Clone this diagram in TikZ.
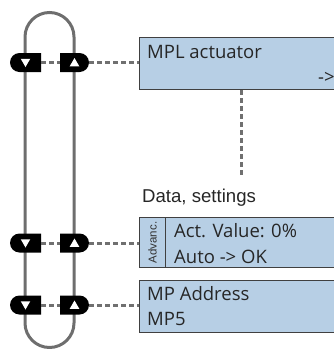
\documentclass[tikz,border=0pt]{standalone}
\usepackage{fontspec}
\setmainfont{Open Sans}
\newfontfamily\arialf{Liberation Sans}
\usetikzlibrary{shapes.misc,shapes.geometric}
\definecolor{boxblue}{RGB}{183,207,229}
\definecolor{loopgray}{RGB}{110,110,110}
\definecolor{dashgray}{RGB}{112,112,112}
\definecolor{edgegray}{RGB}{64,64,64}
\tikzset{
  looppath/.style={draw=loopgray,line width=3pt},
  btnleft/.style={rounded rectangle,rounded rectangle right arc=none,fill=black,minimum width=31pt,minimum height=19pt,inner sep=0pt},
  btnright/.style={rounded rectangle,rounded rectangle left arc=none,fill=black,minimum width=29pt,minimum height=19pt,inner sep=0pt},
  tri/.style={regular polygon,regular polygon sides=3,fill=white,minimum size=11pt,inner sep=0pt},
  dashc/.style={draw=dashgray,line width=3pt,dash pattern=on 5pt off 3pt},
  panel/.style={draw=edgegray,line width=1pt,fill=boxblue,rectangle,inner sep=0pt,anchor=north west},
  ptext/.style={font=\fontsize{18.5}{22}\selectfont,anchor=base west,inner sep=0pt,text=black!85}
}
\begin{document}
\begin{tikzpicture}[x=1pt,y=-1pt]
\useasboundingbox (0,0) rectangle (334,349);
\clip (0,0) rectangle (334,349);
% loop
\draw[looppath] (25,323) -- (25,37) arc[start angle=180,end angle=0,radius=24.5pt] -- (74,323) arc[start angle=0,end angle=-180,radius=24.5pt];
% panels
\node[panel,minimum width=220pt,minimum height=52pt] (box1) at (139,37) {};
\node[panel,minimum width=220pt,minimum height=50pt] (box2) at (139,217) {};
\node[panel,minimum width=26pt,minimum height=50pt] (adv) at (139,217) {};
\node[panel,minimum width=220pt,minimum height=52pt] (box3) at (139,280) {};
% texts
\node[ptext] (t1) at (147,58) {MPL actuator};
\node[ptext] (t1b) at (318,83) {->};
\node[ptext] (t2a) at (174,237.5) {Act. Value: 0\%};
\node[ptext] (t2b) at (174,263) {Auto -> OK};
\node[ptext] (t3a) at (147,300) {MP Address};
\node[ptext] (t3b) at (147,325) {MP5};
\node[font=\arialf\fontsize{11.5}{12}\selectfont,rotate=90,inner sep=0pt,text=black!80] (advt) at (adv.center) {Advanc.};
\node[font=\arialf\fontsize{18.6}{22}\selectfont,anchor=base west,inner sep=0pt,text=black!85] (data) at (142,202) {Data, settings};
% buttons
\foreach \r/\y in {1/62.5,2/243,3/305}{
  \node[btnleft] (d\r) at (25.5,\y) {};
  \node[btnright] (u\r) at (74.5,\y) {};
  \node[tri,shape border rotate=180] (dt\r) at (25.5,\y-1) {};
  \node[tri] (ut\r) at (74.5,\y+1) {};
  \draw[dashc] (d\r.east) -- (u\r.west);
}
\draw[dashc] (u1.east) -- (u1.east -| box1.west);
\draw[dashc] (u2.east) -- (u2.east -| box2.west);
\draw[dashc] (u3.east) -- (u3.east -| box3.west);
% vertical dashed
\coordinate (vend) at (241,177);
\draw[dashc] (vend |- box1.south) -- (vend);
\end{tikzpicture}
\end{document}
